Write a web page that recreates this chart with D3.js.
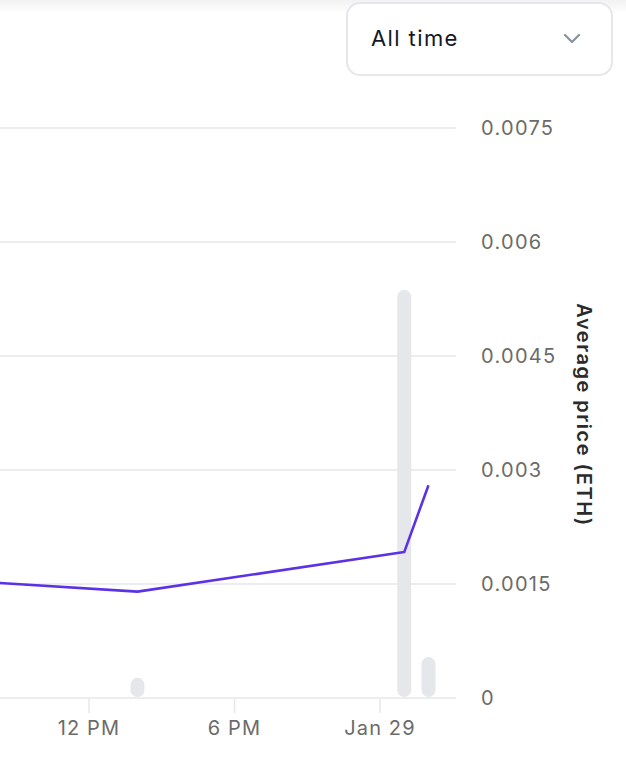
<!DOCTYPE html>
<html>
<head>
<meta charset="utf-8">
<script src="https://cdn.jsdelivr.net/npm/d3@7"></script>
<style>
  html, body { margin: 0; padding: 0; background: #fff; }
  body { width: 626px; height: 768px; overflow: hidden; font-family: Inter, "Noto Sans", sans-serif; }
</style>
</head>
<body>
<svg id="chart" width="626" height="768"></svg>
<script>
// data
const priceTimes = ['2024-01-28T06:00', '2024-01-28T14:00', '2024-01-29T01:00', '2024-01-29T02:00']
const priceValues = [0.00156, 0.0014, 0.00192, 0.0028]
const volumeTimes = ['2024-01-28T14:00', '2024-01-29T01:00', '2024-01-29T02:00']
const volumeValues = [0.047, 1.0, 0.098]
const yTicks = [0, 0.0015, 0.003, 0.0045, 0.006, 0.0075]
const yTickLabels = ['0', '0.0015', '0.003', '0.0045', '0.006', '0.0075']
const xTicks = ['2024-01-28T12:00', '2024-01-28T18:00', '2024-01-29T00:00']
const xTickLabels = ['12 PM', '6 PM', 'Jan 29']

const parse = d3.timeParse('%Y-%m-%dT%H:%M')
const prices = priceTimes.map((t, i) => ({ t: parse(t), v: priceValues[i] }))
const volumes = volumeTimes.map((t, i) => ({ t: parse(t), v: volumeValues[i] }))

const svg = d3.select('#chart')

// faint shadow along the top edge
const defs = svg.append('defs')
const grad = defs.append('linearGradient').attr('id', 'topShade').attr('x1', 0).attr('x2', 0).attr('y1', 0).attr('y2', 1)
grad.append('stop').attr('offset', 0).attr('stop-color', '#f2f2f2')
grad.append('stop').attr('offset', 1).attr('stop-color', '#ffffff')
svg.append('rect').attr('x', 0).attr('y', 0).attr('width', 626).attr('height', 14).attr('fill', 'url(#topShade)')

// dropdown
svg.append('rect').attr('x', 347).attr('y', 3).attr('width', 265).attr('height', 72).attr('rx', 13)
  .attr('fill', '#fff').attr('stroke', '#e5e7eb').attr('stroke-width', 2)
svg.append('text').attr('x', 371).attr('y', 46).attr('font-size', 22).attr('letter-spacing', 1.4)
  .attr('fill', '#111827').text('All time')
svg.append('path').attr('d', 'M565,35 L572,42 L579,35').attr('fill', 'none')
  .attr('stroke', '#8a939b').attr('stroke-width', 2.2).attr('stroke-linecap', 'round').attr('stroke-linejoin', 'round')

const plotRight = 456
const x = d3.scaleTime()
  .domain([parse('2024-01-28T12:00'), parse('2024-01-29T00:00')])
  .range([89, 380])
const y = d3.scaleLinear().domain([0, 0.0075]).range([698, 128])
const yVol = d3.scaleLinear().domain([0, 1.4]).range([697, 127])

// gridlines
svg.append('g').selectAll('line').data(yTicks.slice(1)).join('line')
  .attr('x1', 0).attr('x2', plotRight)
  .attr('y1', d => y(d)).attr('y2', d => y(d))
  .attr('stroke', '#e5e7eb').attr('stroke-width', 1.5)

// y labels
svg.append('g').selectAll('text').data(yTicks).join('text')
  .attr('x', 481).attr('y', d => y(d) + 7)
  .attr('font-size', 20).attr('letter-spacing', 1.3).attr('fill', '#6b6b6b')
  .text((d, i) => yTickLabels[i])

// axis title
svg.append('text').attr('transform', 'translate(577,415) rotate(90)')
  .attr('text-anchor', 'middle').attr('font-size', 20).attr('font-weight', 600)
  .attr('letter-spacing', 1.5).attr('fill', '#2b2b2b').text('Average price (ETH)')

// volume bars
const bw = 14
svg.append('g').selectAll('rect').data(volumes).join('rect')
  .attr('x', d => x(d.t) - bw / 2).attr('width', bw)
  .attr('y', d => yVol(d.v)).attr('height', d => yVol(0) - yVol(d.v))
  .attr('rx', bw / 2).attr('fill', '#e5e7eb')

// x axis line and ticks
svg.append('line').attr('x1', 0).attr('x2', plotRight).attr('y1', 698).attr('y2', 698)
  .attr('stroke', '#e5e7eb').attr('stroke-width', 1.5)
const xt = xTicks.map(parse)
svg.append('g').selectAll('line').data(xt).join('line')
  .attr('x1', d => x(d)).attr('x2', d => x(d)).attr('y1', 699).attr('y2', 713)
  .attr('stroke', '#e5e7eb').attr('stroke-width', 1.5)
svg.append('g').selectAll('text').data(xt).join('text')
  .attr('x', d => x(d)).attr('y', 735).attr('text-anchor', 'middle')
  .attr('font-size', 20).attr('letter-spacing', 1.1).attr('fill', '#6b6b6b')
  .text((d, i) => xTickLabels[i])

// price line
const line = d3.line().x(d => x(d.t)).y(d => y(d.v))
svg.append('path').datum(prices)
  .attr('fill', 'none').attr('stroke', '#5b32e6').attr('stroke-width', 2.6)
  .attr('stroke-linejoin', 'round').attr('d', line)
</script>
</body>
</html>
